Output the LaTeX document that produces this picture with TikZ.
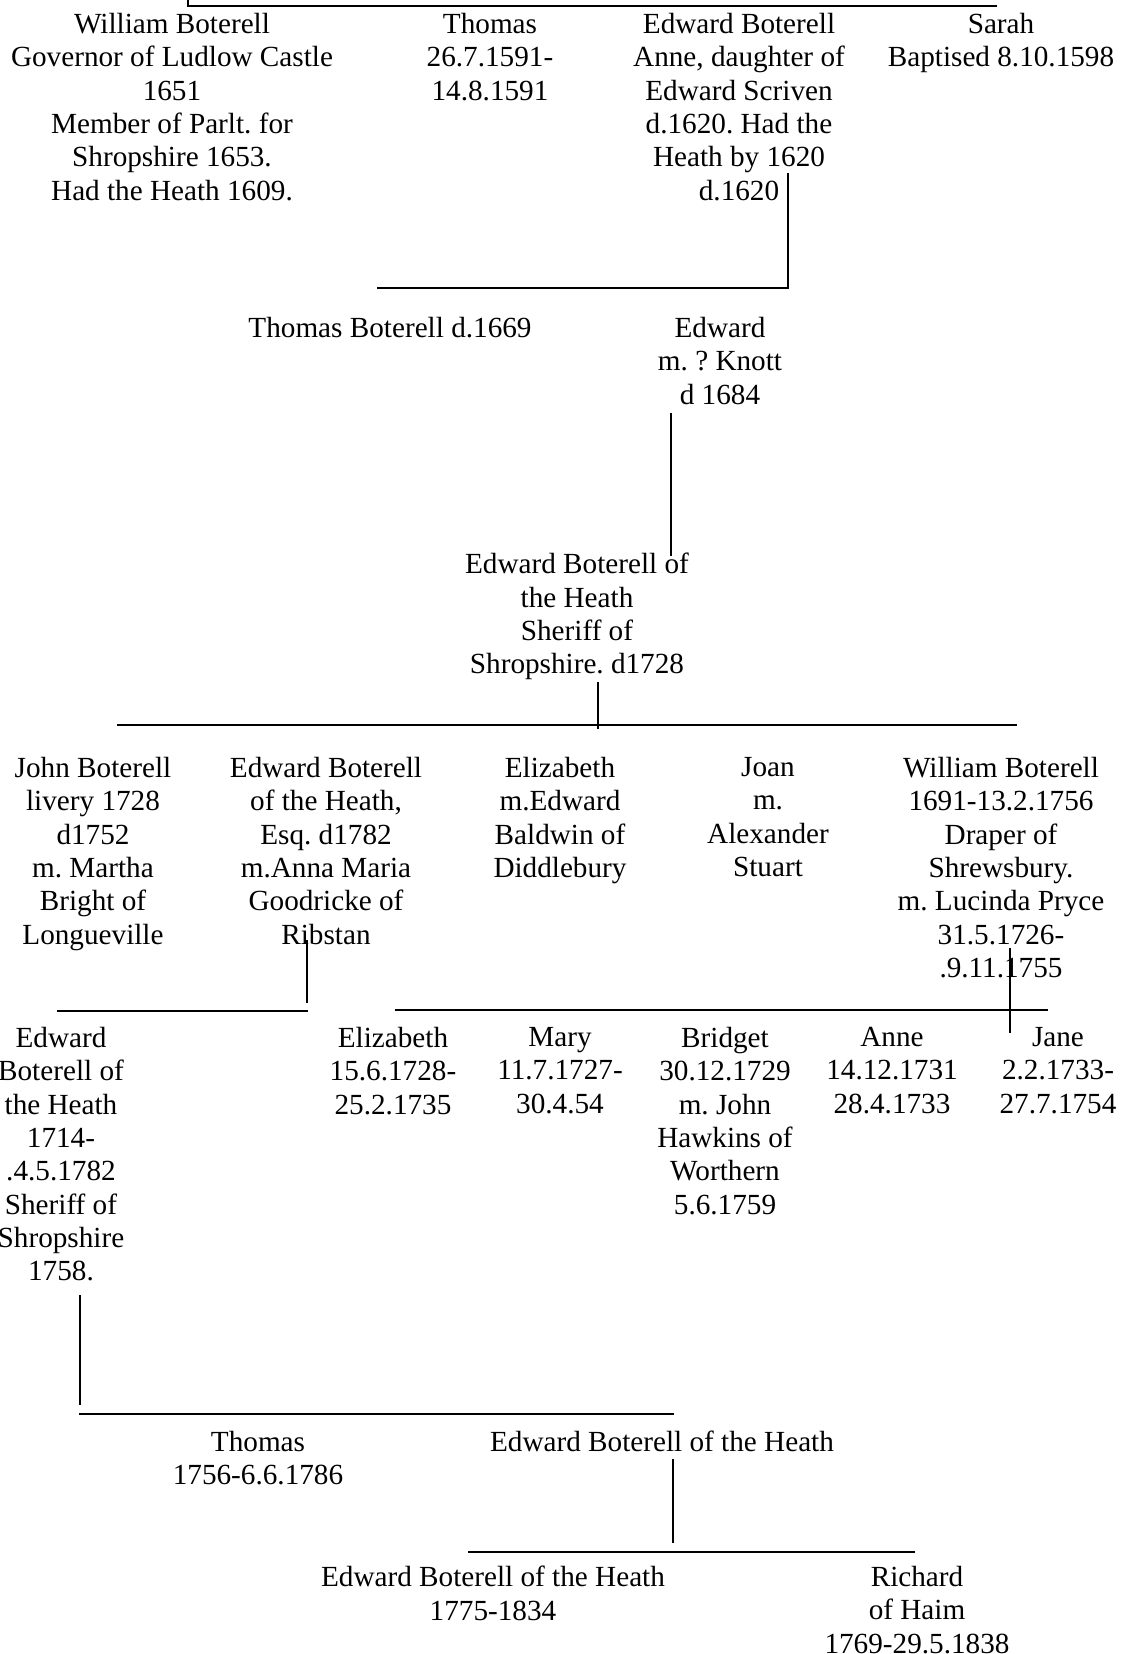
\documentclass[tikz,border=0pt]{standalone}
\usepackage{fontspec}
\setmainfont{Liberation Serif}
\frenchspacing

\begin{document}
\begin{tikzpicture}[x = 0.5pt, y = -0.5pt]
			% Page frame
			\clip (0, 0) rectangle (1126, 1654);

			% Custom styles for names and lines
			\tikzset{person/.style = {align = center, inner sep = 0pt, anchor = north, font = \fontsize{14.6}{16.65}\selectfont}}
			\tikzset{stem/.style = {line width = 0.9pt}}
			\tikzset{branch/.style = {line width = 1pt}}

			% First generation
			\node[person] (william) at (172, 13) {William Boterell\\Governor of Ludlow Castle\\1651\\Member of Parlt. for\\Shropshire 1653.\\Had the Heath 1609.};
			\node[person] (thomas) at (490, 13) {Thomas\\26.7.1591-\\14.8.1591};
			\node[person] (edward) at (739, 13) {Edward Boterell\\Anne, daughter of\\Edward Scriven\\d.1620. Had the\\Heath by 1620\\d.1620};
			\node[person] (sarah) at (1001, 13) {Sarah\\Baptised 8.10.1598};

			% Second generation
			\node[person] (thomasb) at (390, 317) {Thomas Boterell d.1669};
			\node[person] (edwardk) at (720, 317) {Edward\\m. ? Knott\\d 1684};

			% Third generation
			\node[person] (edwardh) at (577, 553) {Edward Boterell of\\the Heath\\Sheriff of\\Shropshire. d1728};

			% Fourth generation
			\node[person] (john) at (93, 757) {John Boterell\\livery 1728\\d1752\\m. Martha\\Bright of\\Longueville};
			\node[person] (edwardg) at (326, 757) {Edward Boterell\\of the Heath,\\Esq. d1782\\m.Anna Maria\\Goodricke of\\Ribstan};
			\node[person] (elizabethb) at (560, 757) {Elizabeth\\m.Edward\\Baldwin of\\Diddlebury};
			\node[person] (joan) at (768, 757) {Joan\\m.\\Alexander\\Stuart};
			\node[person] (williamd) at (1001, 757) {William Boterell\\1691-13.2.1756\\Draper of\\Shrewsbury.\\m. Lucinda Pryce\\31.5.1726-\\.9.11.1755};

			% Fifth generation
			\node[person] (edwards) at (61, 1027) {Edward\\Boterell of\\the Heath\\1714-\\.4.5.1782\\Sheriff of\\Shropshire\\1758.};
			\node[person] (elizabeth) at (393, 1027) {Elizabeth\\15.6.1728-\\25.2.1735};
			\node[person] (mary) at (560, 1027) {Mary\\11.7.1727-\\30.4.54};
			\node[person] (bridget) at (725, 1027) {Bridget\\30.12.1729\\m. John\\Hawkins of\\Worthern\\5.6.1759};
			\node[person] (anne) at (892, 1027) {Anne\\14.12.1731\\28.4.1733};
			\node[person] (jane) at (1058, 1027) {Jane\\2.2.1733-\\27.7.1754};

			% Sixth and seventh generation
			\node[person] (thomasy) at (258, 1431) {Thomas\\1756-6.6.1786};
			\node[person] (edwardy) at (662, 1431) {Edward Boterell of the Heath};
			\node[person] (edwardz) at (493, 1566) {Edward Boterell of the Heath\\1775-1834};
			\node[person] (richard) at (917, 1566) {Richard\\of Haim\\1769-29.5.1838};

			% Define the coordinates of the line ends
			\coordinate (t0) at (188, 0);
			\coordinate (t1) at (188, 6);
			\coordinate (t2) at (997, 6);
			\coordinate (a0) at (788, 173);
			\coordinate (a1) at (788, 288);
			\coordinate (a2) at (377, 288);
			\coordinate (b0) at (671, 413);
			\coordinate (b1) at (671, 556);
			\coordinate (c0) at (598, 682);
			\coordinate (c1) at (598, 729);
			\coordinate (c2) at (117, 725);
			\coordinate (c3) at (1017, 725);
			\coordinate (d0) at (307, 940);
			\coordinate (d1) at (307, 1003);
			\coordinate (d2) at (57, 1011);
			\coordinate (d3) at (308, 1011);
			\coordinate (e0) at (1010, 948);
			\coordinate (e1) at (1010, 1033);
			\coordinate (e2) at (395, 1010);
			\coordinate (e3) at (1048, 1010);
			\coordinate (f0) at (80, 1295);
			\coordinate (f1) at (80, 1405);
			\coordinate (f2) at (79, 1414);
			\coordinate (f3) at (674, 1414);
			\coordinate (g0) at (673, 1459);
			\coordinate (g1) at (673, 1543);
			\coordinate (g2) at (468, 1552);
			\coordinate (g3) at (915, 1552);

			% Draw the family lines
			\draw[branch] (t0)--(t1)--(t2);
			\draw[branch] (a0)--(a1)--(a2);
			\draw[stem] (b0)--(b1);
			\draw[stem] (c0)--(c1);
			\draw[branch] (c2)--(c3);
			\draw[stem] (d0)--(d1);
			\draw[branch] (d2)--(d3);
			\draw[stem] (e0)--(e1);
			\draw[branch] (e2)--(e3);
			\draw[stem] (f0)--(f1);
			\draw[branch] (f2)--(f3);
			\draw[stem] (g0)--(g1);
			\draw[branch] (g2)--(g3);

		\end{tikzpicture}
\end{document}
